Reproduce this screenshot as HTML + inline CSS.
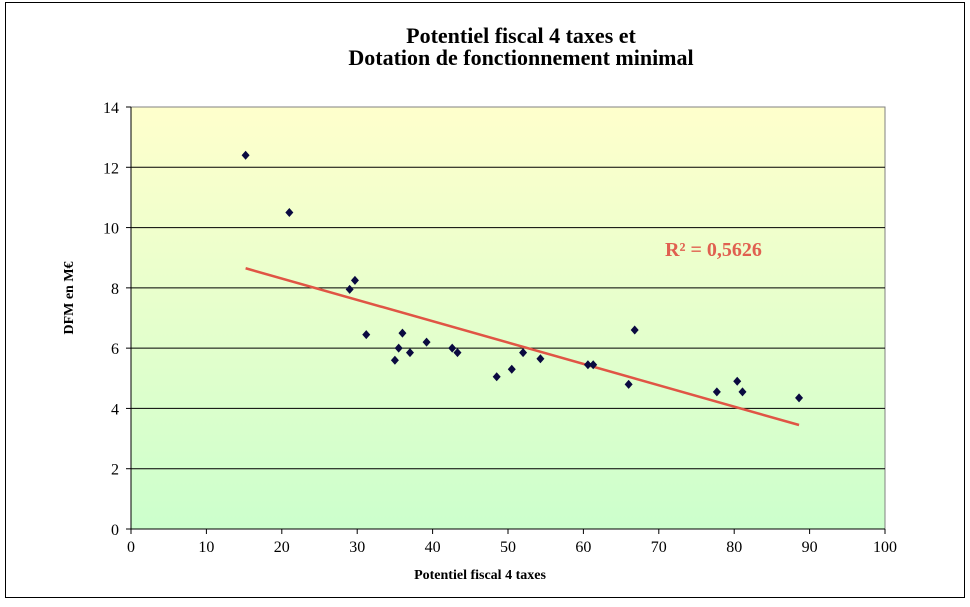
<!DOCTYPE html>
<html><head><meta charset="utf-8"><style>
body{margin:0;background:#fff;width:970px;height:602px;overflow:hidden}
svg text{font-family:"Liberation Serif",serif}
</style></head><body>
<svg width="970" height="602">
<defs><linearGradient id="bg" x1="0" y1="0" x2="0" y2="1"><stop offset="0" stop-color="#FFFFCC"/><stop offset="1" stop-color="#CCFFCC"/></linearGradient></defs>
<rect x="5.5" y="2.5" width="959" height="595" fill="#fff" stroke="#000"/>
<text x="521" y="43" text-anchor="middle" font-size="22" font-weight="bold">Potentiel fiscal 4 taxes et</text>
<text x="521" y="65" text-anchor="middle" font-size="22" font-weight="bold">Dotation de fonctionnement minimal</text>
<rect x="131" y="107" width="754" height="422" fill="url(#bg)" stroke="#808080"/>
<g id="grid"></g><g id="axes"></g><g id="marks"></g>
<text x="480" y="579" text-anchor="middle" font-size="14" font-weight="bold">Potentiel fiscal 4 taxes</text>
<text transform="translate(73,298) rotate(-90)" text-anchor="middle" font-size="14" font-weight="bold">DFM en M€</text>
<text x="665" y="256" font-size="20" font-weight="bold" fill="#E06050">R² = 0,5626</text>
</svg>
<script>
const xTicks=[0,10,20,30,40,50,60,70,80,90,100];
const yTicks=[0,2,4,6,8,10,12,14];
const xValues=[15.2,21,29,29.7,31.2,35,35.5,36,37,39.2,42.6,43.3,48.5,50.5,52,54.3,60.6,61.3,66,66.8,77.7,80.4,81.1,88.6];
const yValues=[12.4,10.5,7.95,8.25,6.45,5.6,6,6.5,5.85,6.2,6,5.85,5.05,5.3,5.85,5.65,5.45,5.45,4.8,6.6,4.55,4.9,4.55,4.35];
const trendX=[15.2,88.6];
const trendY=[8.65,3.45];
const NS="http://www.w3.org/2000/svg";
const X=v=>131+v/100*754, Y=v=>529-v/14*422;
function mk(t,a,p){const e=document.createElementNS(NS,t);for(const k in a)e.setAttribute(k,a[k]);document.getElementById(p).appendChild(e);return e;}
yTicks.forEach(v=>{
 if(v>0&&v<14){const g=mk('line',{x1:131,x2:885,y1:Y(v),y2:Y(v),stroke:'#000'},'grid');
 
 }
 const t=mk('line',{x1:126,x2:131,y1:Y(v),y2:Y(v),stroke:'#000'},'axes');
 
 
 const l=mk('text',{x:119,y:Y(v)+6,'text-anchor':'end','font-size':16},'axes');l.textContent=v;
 
 
});
xTicks.forEach(v=>{
 const t=mk('line',{x1:X(v),x2:X(v),y1:529,y2:534,stroke:'#000'},'axes');
 
 
 const l=mk('text',{x:X(v),y:552,'text-anchor':'middle','font-size':16},'axes');l.textContent=v;
 
 
});
const ax=mk('line',{x1:131,x2:885,y1:529,y2:529,stroke:'#000'},'axes');


const ay=mk('line',{x1:131,x2:131,y1:107,y2:529,stroke:'#000'},'axes');


const tl=mk('line',{x1:X(trendX[0]),y1:Y(trendY[0]),x2:X(trendX[1]),y2:Y(trendY[1]),stroke:'#E05545','stroke-width':2.5},'marks');


xValues.forEach((v,i)=>{const x=X(v),y=Y(yValues[i]);
 const p=mk('polygon',{points:`${x},${y-4.5} ${x+4},${y} ${x},${y+4.5} ${x-4},${y}`,fill:'#0A0A40'},'marks');
 
 
});
</script>
</body></html>
